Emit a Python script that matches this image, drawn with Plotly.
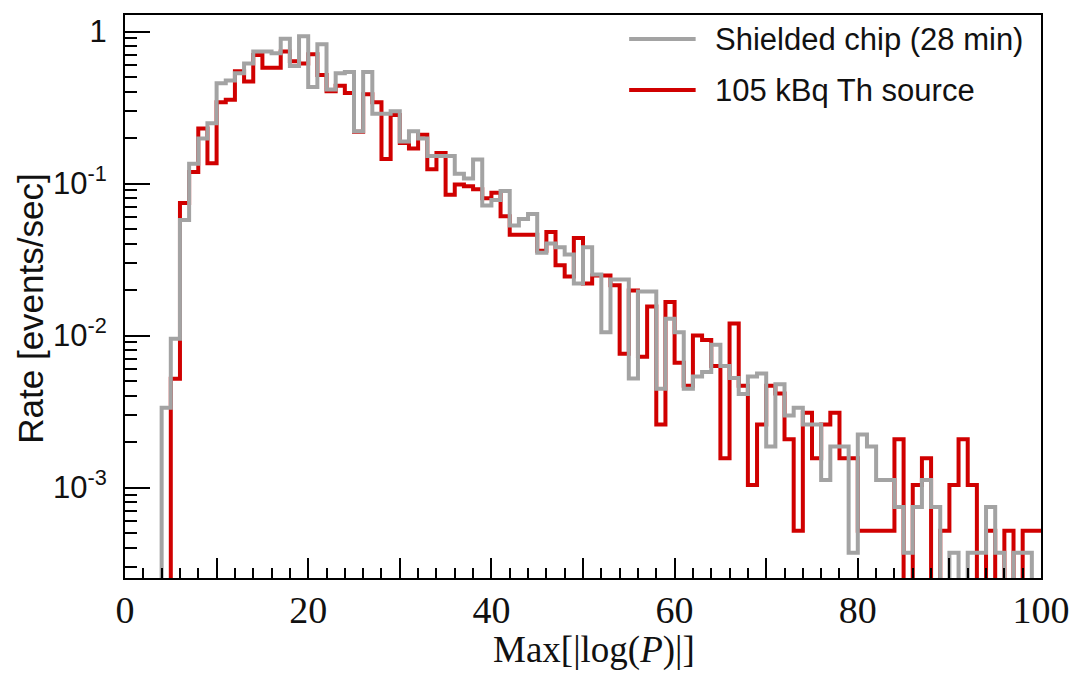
import numpy as np
import plotly.graph_objects as go

# Histogram binning: 100 bins of width 1 on Max[|log(P)|]
bin_edges = list(range(0, 101))

# Rate per bin [events/sec]; 0 means an empty bin
shielded_rate = [
    0, 0, 0, 0, 0.00335, 0.00951, 0.0575, 0.135, 0.198, 0.249,
    0.456, 0.476, 0.532, 0.617, 0.740, 0.740, 0.719, 0.895, 0.593, 0.931,
    0.432, 0.826, 0.415, 0.532, 0.541, 0.221, 0.541, 0.288, 0.288, 0.299,
    0.189, 0.221, 0.198, 0.152, 0.152, 0.152, 0.116, 0.108, 0.144, 0.0716,
    0.0778, 0.0893, 0.0530, 0.0585, 0.0631, 0.0351, 0.0403, 0.0381, 0.0341, 0.0220,
    0.0381, 0.0252, 0.0105, 0.0234, 0.0234, 0.00521, 0.0195, 0.0195, 0.00446, 0.0129,
    0.0105, 0.00446, 0.00537, 0.00575, 0.00871, 0.00631, 0.00525, 0.00412, 0.00537, 0.00562,
    0.00186, 0.00479, 0.00298, 0.00335, 0.00260, 0.00260, 0.00112, 0.00186, 0.00186, 0.000372,
    0.00223, 0.00186, 0.00112, 0.00112, 0.000744, 0.000372, 0.000744, 0.00112, 0.000744, 0,
    0.000372, 0, 0.000372, 0.000372, 0.000744, 0.000372, 0, 0.000372, 0.000372, 0,
]

thorium_rate = [
    0, 0, 0, 0, 0, 0.00519, 0.0745, 0.119, 0.230, 0.136,
    0.343, 0.356, 0.547, 0.469, 0.700, 0.578, 0.578, 0.740, 0.637, 0.617,
    0.708, 0.518, 0.404, 0.439, 0.394, 0.219, 0.386, 0.343, 0.145, 0.282,
    0.185, 0.170, 0.209, 0.124, 0.159, 0.0845, 0.0986, 0.0959, 0.0918, 0.0800,
    0.0869, 0.0608, 0.0461, 0.0461, 0.0461, 0.0361, 0.0480, 0.0290, 0.0245, 0.0438,
    0.0220, 0.0248, 0.0248, 0.0214, 0.00759, 0.0198, 0.00724, 0.0155, 0.00260, 0.0166,
    0.00661, 0.00467, 0.0100, 0.00933, 0.00631, 0.00156, 0.0120, 0.00467, 0.00104, 0.00260,
    0.00467, 0.00415, 0.00208, 0.000519, 0.00311, 0.00156, 0.00260, 0.00311, 0.00156, 0.00156,
    0.000519, 0.000519, 0.000519, 0.000519, 0.00208, 0, 0.00104, 0.00156, 0, 0.000519,
    0.00104, 0.00208, 0.00104, 0, 0.000519, 0, 0.000519, 0, 0.000519, 0.000519,
]

series_names = ["Shielded chip (28 min)", "105 kBq Th source"]
x_tick_values = [0, 10, 20, 30, 40, 50, 60, 70, 80, 90, 100]
x_tick_labels = ["0", "", "20", "", "40", "", "60", "", "80", "", "100"]
y_tick_values = [1, 0.1, 0.01, 0.001]
y_tick_labels = ["1", "10<sup>-1</sup>", "10<sup>-2</sup>", "10<sup>-3</sup>"]

GRAY = "#a3a3a3"
RED = "#d00000"
LOG_RANGE = [-3.595, 0.1086]
# empty bins are drawn down past the lower frame edge, as a log-scale histogram does
FLOOR = 10 ** (LOG_RANGE[0] - 1)


def step_values(rates):
    vals = np.where(np.asarray(rates, dtype=float) > 0, rates, FLOOR)
    return np.append(vals, vals[-1])


fig = go.Figure()
for rates, color, name in [(thorium_rate, RED, series_names[1]),
                           (shielded_rate, GRAY, series_names[0])]:
    fig.add_trace(go.Scatter(
        x=bin_edges, y=step_values(rates), mode="lines", name=name,
        line=dict(color=color, width=4, shape="hv"), showlegend=False,
    ))

W, H = 1082, 675
ML, MR, MT, MB = 125, 34, 15, 97
PW, PH = W - ML - MR, H - MT - MB


def px_x(px):
    return (px - ML) / PW


def px_y(py):
    return (H - MB - py) / PH


# legend drawn as line samples and labels in the upper right of the frame
shapes = []
annotations = []
for name, color, ypix in [(series_names[0], GRAY, 39), (series_names[1], RED, 90)]:
    shapes.append(dict(type="line", xref="paper", yref="paper",
                       x0=px_x(633), x1=px_x(700), y0=px_y(ypix), y1=px_y(ypix),
                       line=dict(color=color, width=4)))
    annotations.append(dict(text=name, xref="paper", yref="paper",
                            x=px_x(717), y=px_y(ypix), xanchor="left", yanchor="middle",
                            showarrow=False,
                            font=dict(family="Liberation Sans, Arial", size=31, color="#111")))

annotations.append(dict(text="Rate [events/sec]", xref="paper", yref="paper",
                        x=px_x(29), y=px_y(309), textangle=-90,
                        xanchor="center", yanchor="middle", showarrow=False,
                        font=dict(family="Liberation Sans, Arial", size=35, color="#111")))
annotations.append(dict(text="Max[|log(<i>P</i>)|]", xref="paper", yref="paper",
                        x=px_x(598), y=px_y(650), xanchor="center", yanchor="middle",
                        showarrow=False,
                        font=dict(family="Liberation Serif, Times New Roman", size=37, color="#111")))

fig.update_layout(
    width=W, height=H,
    margin=dict(l=ML, r=MR, t=MT, b=MB, pad=0),
    paper_bgcolor="white", plot_bgcolor="white",
    shapes=shapes, annotations=annotations,
    showlegend=False,
)

fig.update_xaxes(
    range=[0, 100], showgrid=False, zeroline=False,
    showline=True, linecolor="black", linewidth=2, mirror=True,
    tickmode="array", tickvals=x_tick_values, ticktext=x_tick_labels,
    ticks="inside", ticklen=20, tickwidth=2, tickcolor="black",
    ticklabelstandoff=-3,
    tickfont=dict(family="Liberation Serif, Times New Roman", size=38, color="#111"),
    minor=dict(tickmode="linear", tick0=0, dtick=2, ticks="inside",
               ticklen=10, tickwidth=2, tickcolor="black", showgrid=False),
)

fig.update_yaxes(
    type="log", range=LOG_RANGE, showgrid=False, zeroline=False,
    showline=True, linecolor="black", linewidth=2, mirror=True,
    tickmode="array", tickvals=y_tick_values, ticktext=y_tick_labels,
    ticks="inside", ticklen=25, tickwidth=2, tickcolor="black",
    ticklabelstandoff=10,
    tickfont=dict(family="Liberation Sans, Arial", size=31, color="#111"),
    minor=dict(dtick="D1", ticks="inside", ticklen=12, tickwidth=2,
               tickcolor="black", showgrid=False),
)

fig.write_html("out.html")
